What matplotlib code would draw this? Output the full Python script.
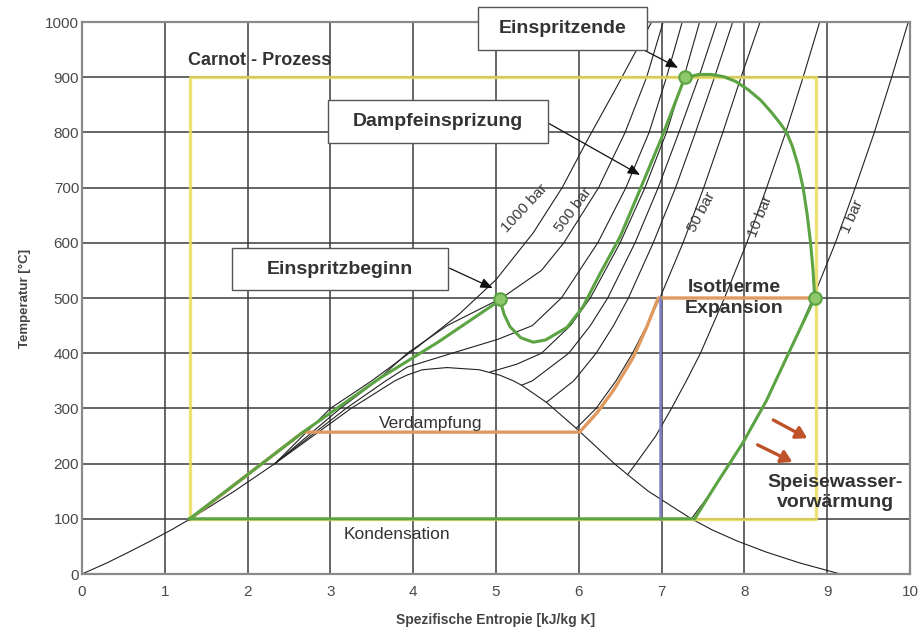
import matplotlib
matplotlib.use('Agg')
import matplotlib.pyplot as plt
from matplotlib.patches import Rectangle

plt.rcParams['font.family'] = ['Liberation Sans', 'DejaVu Sans']

# Saturation dome of water (liquid side up to the critical point, then vapour side)
liquid_s = [0.0, 0.30, 0.57, 0.83, 1.08, 1.31, 1.84, 2.33, 2.79, 3.25, 3.78, 3.92, 4.11, 4.41]
liquid_t = [0, 20, 40, 60, 80, 100, 150, 200, 250, 300, 350, 360, 370, 374]
vapour_s = [4.41, 4.80, 5.05, 5.21, 5.31, 5.61, 5.97, 6.07, 6.43, 6.59, 6.84, 7.36, 7.61,
            7.91, 8.26, 8.67, 9.16]
vapour_t = [374, 370, 360, 350, 342, 311, 264, 250, 200, 180, 150, 100, 80, 60, 40, 20, 0]

# Isobars: label -> (entropy, temperature)
isobars = {
    '1000 bar': ([2.33, 3.0, 3.5, 4.05, 4.55, 5.0, 5.45, 5.8, 6.1, 6.45, 6.7, 6.88],
                 [200, 300, 350, 411, 470, 533, 618, 700, 785, 880, 950, 1000]),
    '500 bar': ([2.33, 3.12, 3.56, 3.93, 4.41, 5.07, 5.55, 5.82, 6.24, 6.56, 6.82, 7.02],
                [200, 300, 350, 400, 450, 500, 550, 600, 700, 800, 900, 1000]),
    '300 bar': ([2.33, 3.19, 3.67, 3.93, 4.47, 5.02, 5.44, 5.79, 6.23, 6.57, 6.85, 7.06, 7.25],
                [200, 300, 350, 375, 400, 425, 450, 500, 600, 700, 800, 900, 1000]),
    '200 bar': ([4.93, 5.25, 5.55, 5.90, 6.14, 6.50, 6.80, 7.06, 7.27, 7.46],
                [366, 380, 400, 450, 500, 600, 700, 800, 900, 1000]),
    '150 bar': ([5.31, 5.44, 5.88, 6.14, 6.35, 6.68, 6.96, 7.21, 7.45, 7.67],
                [342, 350, 400, 450, 500, 600, 700, 800, 900, 1000]),
    '100 bar': ([5.61, 5.94, 6.21, 6.42, 6.60, 6.90, 7.17, 7.41, 7.64, 7.86],
                [311, 350, 400, 450, 500, 600, 700, 800, 900, 1000]),
    '50 bar': ([5.97, 6.21, 6.45, 6.65, 6.82, 6.98, 7.26, 7.51, 7.74, 7.96, 8.19],
               [264, 300, 350, 400, 450, 500, 600, 700, 800, 900, 1000]),
    '10 bar': ([6.59, 6.69, 6.93, 7.12, 7.30, 7.47, 7.76, 8.03, 8.27, 8.50, 8.71, 8.91],
               [180, 200, 250, 300, 350, 400, 500, 600, 700, 800, 900, 1000]),
    '1 bar': ([7.36, 7.61, 7.83, 8.03, 8.22, 8.54, 8.83, 9.10, 9.34, 9.57, 9.78, 9.98],
              [100, 150, 200, 250, 300, 400, 500, 600, 700, 800, 900, 1000]),
}

# Labelled isobars: name, entropy, temperature, angle
isobar_labels = [
    ('1000 bar', 5.35, 663, 47),
    ('500 bar', 5.93, 659, 53),
    ('50 bar', 7.49, 656, 62),
    ('10 bar', 8.19, 647, 68),
    ('1 bar', 9.30, 647, 66),
]

# Carnot process (rectangle)
carnot_s = [1.30, 1.30, 8.86, 8.86, 1.30]
carnot_t = [100, 900, 900, 100, 100]

# Clausius-Rankine with superheating (orange)
rankine_s = [1.31, 2.0, 2.67, 6.01, 6.22, 6.42, 6.66, 6.82, 6.96, 8.86]
rankine_t = [100, 180, 257, 257, 292, 333, 393, 447, 500, 500]

# Isentropic expansion line (blue)
expansion_s = [6.98, 6.98]
expansion_t = [100, 500]

# Process with steam injection (green)
steam_s = [1.30, 2.0, 2.67, 3.6, 4.3, 5.05, 5.10, 5.17, 5.30, 5.45, 5.60, 5.86,
           6.05, 6.26, 6.50, 6.75, 7.0, 7.28, 7.45, 7.60, 7.75, 7.90, 8.05, 8.20, 8.33,
           8.44, 8.51, 8.58, 8.65, 8.71, 8.76, 8.80, 8.83, 8.85, 8.55, 8.27, 7.98, 7.67,
           7.40, 1.30]
steam_t = [100, 180, 257, 355, 420, 496, 470, 448, 428, 420, 424, 447,
           484, 545, 611, 700, 790, 899, 905, 905, 901, 892, 877, 858, 836,
           815, 800, 775, 740, 700, 650, 600, 550, 500, 405, 315, 237, 165,
           100, 100]
marker_s = [5.05, 7.28, 8.85]
marker_t = [498, 900, 500]

# Boxed callouts: text, box (s0, s1, t0, t1), arrow start, arrow end
callouts = [
    ('Einspritzende', (4.78, 6.82, 949, 1027), (6.74, 953), (7.20, 917)),
    ('Dampfeinsprizung', (2.97, 5.63, 781, 859), (5.63, 817), (6.74, 723)),
    ('Einspritzbeginn', (1.81, 4.42, 514, 591), (4.44, 554), (4.96, 518)),
]

# Feed water heating arrows: (start, end)
heat_arrows = [((8.35, 279), (8.76, 246)), ((8.16, 234), (8.58, 203))]

GREEN = '#5ba343'
TEXT = '#333333'


def setup_axes(ax):
    ax.set_xlim(0, 10)
    ax.set_ylim(0, 1000)
    ax.set_xticks(range(0, 11))
    ax.set_yticks(range(0, 1001, 100))
    ax.grid(True, color='#3c3c3c', linewidth=1.1, zorder=0)
    ax.set_axisbelow(True)
    ax.tick_params(length=0, labelsize=11, labelcolor='#4a4a4a')
    ax.tick_params(axis='x', pad=8)
    ax.tick_params(axis='y', pad=2)
    for side in ax.spines:
        ax.spines[side].set_color('#8a8a8a')
        ax.spines[side].set_linewidth(1.6)
    ax.set_xlabel('Spezifische Entropie [kJ/kg K]', fontsize=10, fontweight='bold',
                  color='#444444', labelpad=10)
    ax.set_ylabel('Temperatur [°C]', fontsize=9.5, fontweight='bold',
                  color='#444444', labelpad=10)


def draw_chart(ax):
    # Saturation dome and isobars
    ax.plot(liquid_s, liquid_t, color='#222222', lw=0.8, zorder=2)
    ax.plot(vapour_s, vapour_t, color='#222222', lw=0.8, zorder=2)
    for name in isobars:
        s, t = isobars[name]
        ax.plot(s, t, color='#222222', lw=0.8, zorder=2)
    for name, s, t, angle in isobar_labels:
        ax.text(s, t, name, rotation=angle, fontsize=11, color='#3a3a3a',
                ha='center', va='center', zorder=3)

    # Cycles
    ax.plot(carnot_s, carnot_t, color='#e8dc5c', lw=2.4, alpha=0.85, zorder=4)
    ax.plot(rankine_s, rankine_t, color='#e0995e', lw=2.4, zorder=5)
    ax.plot(expansion_s, expansion_t, color='#8080c8', lw=1.8, zorder=5)
    ax.plot(steam_s, steam_t, color=GREEN, lw=2.2, zorder=6)
    ax.plot(marker_s, marker_t, 'o', ms=9, mfc='#8dc86a', mec=GREEN, mew=1.5,
            zorder=7)

    # Feed water heating arrows
    for start, end in heat_arrows:
        ax.annotate('', xy=end, xytext=start, zorder=8,
                    arrowprops=dict(arrowstyle='-|>,head_length=0.5,head_width=0.3',
                                    color='#c0522a', lw=2.4, mutation_scale=13,
                                    shrinkA=0, shrinkB=0))

    # Plain labels
    ax.text(1.28, 915, 'Carnot - Prozess', fontsize=13, fontweight='bold',
            color=TEXT, ha='left', va='bottom', zorder=9)
    ax.text(7.88, 500, 'Isotherme\nExpansion', fontsize=14, fontweight='bold',
            color=TEXT, ha='center', va='center', linespacing=1.35, zorder=9)
    ax.text(4.21, 273, 'Verdampfung', fontsize=12.5, color=TEXT,
            ha='center', va='center', zorder=9)
    ax.text(3.80, 71, 'Kondensation', fontsize=12.5, color=TEXT,
            ha='center', va='center', zorder=9)
    ax.text(9.10, 147, 'Speisewasser-\nvorwärmung', fontsize=14, fontweight='bold',
            color=TEXT, ha='center', va='center', linespacing=1.25, zorder=9)

    # Boxed callouts with arrows
    for text, (s0, s1, t0, t1), start, end in callouts:
        box = Rectangle((s0, t0), s1 - s0, t1 - t0, facecolor='white',
                        edgecolor='#555555', lw=1.0, zorder=10, clip_on=False)
        ax.add_patch(box)
        ax.text((s0 + s1) / 2, (t0 + t1) / 2, text, fontsize=14, fontweight='bold',
                color=TEXT, ha='center', va='center', zorder=11, clip_on=False)
        ax.annotate('', xy=end, xytext=start, zorder=9,
                    arrowprops=dict(arrowstyle='-|>,head_length=0.6,head_width=0.25',
                                    color='#111111', lw=0.9, mutation_scale=12,
                                    shrinkA=0, shrinkB=0))


def main():
    fig = plt.figure(figsize=(9.22, 6.38), dpi=100)
    ax = fig.add_axes([0.0889, 0.1003, 0.8980, 0.8652])
    setup_axes(ax)
    draw_chart(ax)
    fig.savefig('out.png', dpi=100)


if __name__ == '__main__':
    main()
